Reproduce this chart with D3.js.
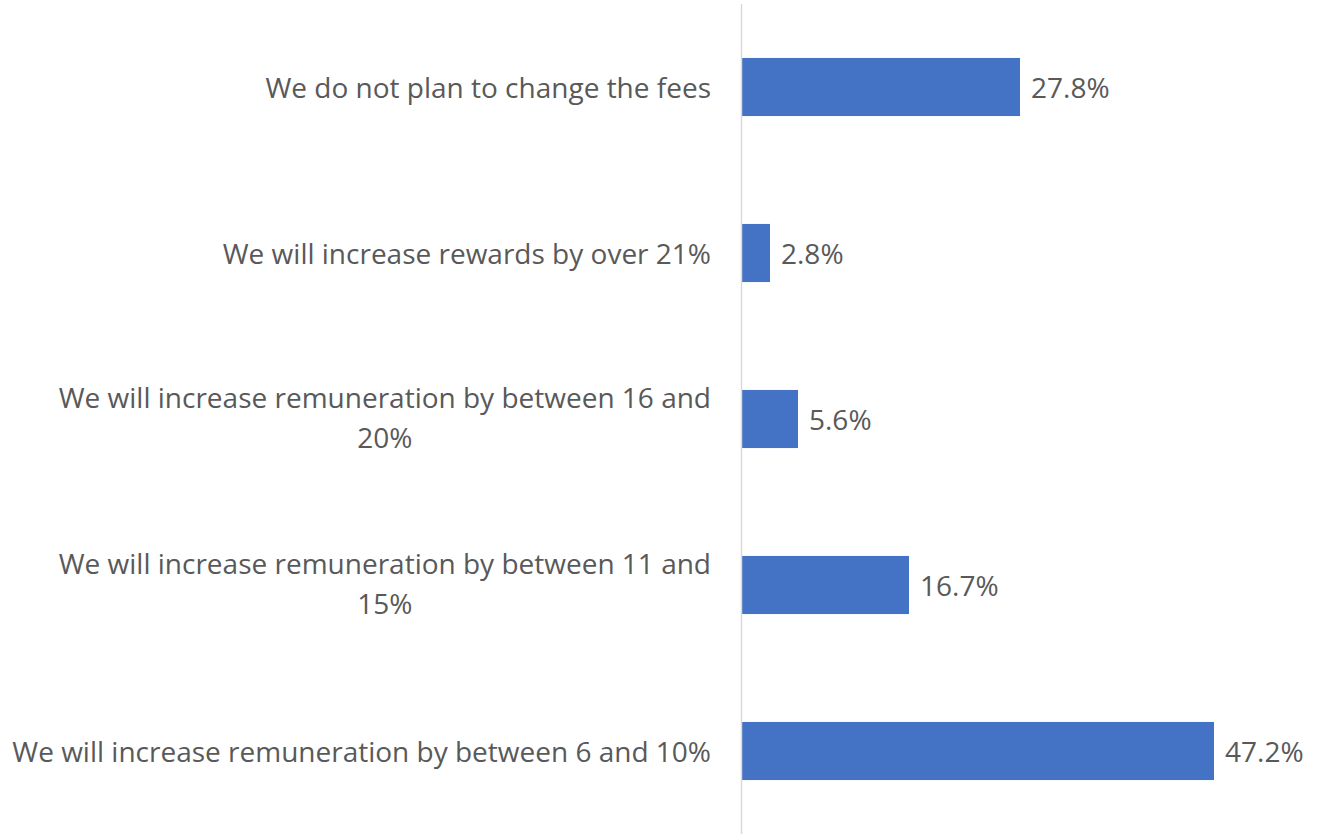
<!DOCTYPE html>
<html>
<head>
<meta charset="utf-8">
<script src="https://cdn.jsdelivr.net/npm/d3@7"></script>
<style>
  html, body { margin: 0; padding: 0; background: #ffffff; }
  svg { display: block; }
</style>
</head>
<body>
<svg id="chart" width="1317" height="834"></svg>
<script>
// Survey answers, top to bottom, with the line breaks used for the labels
const categories = [
  ["We do not plan to change the fees"],
  ["We will increase rewards by over 21%"],
  ["We will increase remuneration by between 16 and", "20%"],
  ["We will increase remuneration by between 11 and", "15%"],
  ["We will increase remuneration by between 6 and 10%"]
];
const values = [27.8, 2.8, 5.6, 16.7, 47.2];
const valueLabels = ["27.8%", "2.8%", "5.6%", "16.7%", "47.2%"];

const width = 1317, height = 834;
const margin = { top: 4, right: 0, bottom: 0, left: 741 };
const fontFamily = "'Open Sans', 'Noto Sans', sans-serif";
const fontSize = 28;
const textColor = "#595959";
const barColor = "#4472c4";

const svg = d3.select("#chart");

const x = d3.scaleLinear()
  .domain([0, 57.6])
  .range([margin.left, width - margin.right]);

const y = d3.scaleBand()
  .domain(d3.range(categories.length))
  .range([margin.top, height - margin.bottom])
  .paddingInner(0.65)
  .paddingOuter(0.325);

// bars
svg.append("g")
  .selectAll("rect")
  .data(values)
  .join("rect")
  .attr("x", x(0) + 1)
  .attr("y", (d, i) => y(i))
  .attr("width", d => x(d) - x(0))
  .attr("height", y.bandwidth())
  .attr("fill", barColor);

// vertical category axis line
svg.append("line")
  .attr("x1", x(0) + 0.5).attr("x2", x(0) + 0.5)
  .attr("y1", margin.top).attr("y2", height)
  .attr("stroke", "#d9d9d9")
  .attr("stroke-width", 1.5);

// category labels: lines centred on each other, block right-aligned near the axis
const lineHeight = 40;
const labelRight = x(0) - 30;
const labels = svg.append("g")
  .attr("font-family", fontFamily)
  .attr("font-size", fontSize)
  .attr("fill", textColor);

categories.forEach((lines, i) => {
  const cy = y(i) + y.bandwidth() / 2 - (lines.length > 1 ? 2 : 0);
  const t = labels.append("text")
    .attr("dominant-baseline", "central");
  lines.forEach((ln, j) => {
    t.append("tspan")
      .attr("y", cy + (j - (lines.length - 1) / 2) * lineHeight)
      .text(ln);
  });
  // measure the widest line, then centre every line within it
  const spans = t.selectAll("tspan").nodes();
  const maxW = d3.max(spans, s => s.getComputedTextLength());
  spans.forEach(s => {
    d3.select(s)
      .attr("x", labelRight - maxW / 2)
      .attr("text-anchor", "middle");
  });
});

// value labels
svg.append("g")
  .attr("font-family", fontFamily)
  .attr("font-size", fontSize)
  .attr("fill", textColor)
  .selectAll("text")
  .data(values)
  .join("text")
  .attr("x", d => x(d) + 1 + 11)
  .attr("y", (d, i) => y(i) + y.bandwidth() / 2)
  .attr("dominant-baseline", "central")
  .text((d, i) => valueLabels[i]);
</script>
</body>
</html>
